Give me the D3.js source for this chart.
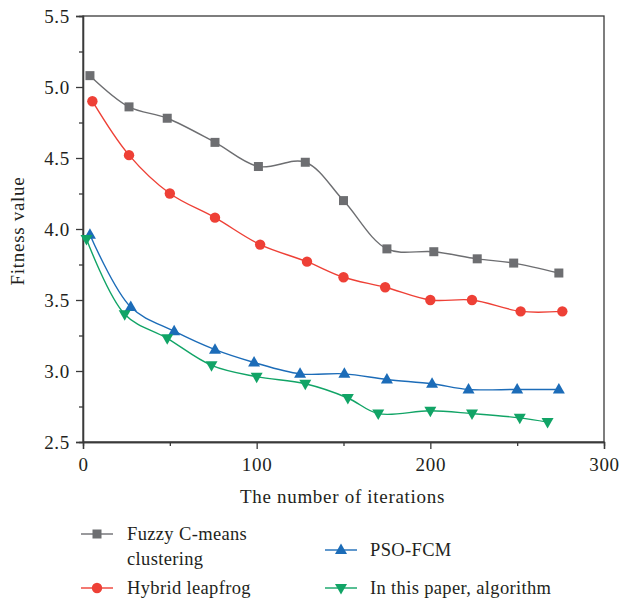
<!DOCTYPE html>
<html><head><meta charset="utf-8">
<script src="https://cdn.jsdelivr.net/npm/d3@7"></script>
<style>body{margin:0;background:#fff}svg{display:block}text{font-family:"Liberation Serif","DejaVu Serif",serif;fill:#231f20;letter-spacing:0.7px}</style>
</head><body><svg id="c" width="621" height="601"></svg>
<script>
const fuzzyX = [4, 26.5, 48.5, 76, 101, 128, 150, 175, 202, 227, 248, 274];
const fuzzyY = [5.08, 4.86, 4.78, 4.61, 4.44, 4.47, 4.20, 3.86, 3.84, 3.79, 3.76, 3.69];
const hybridX = [5.4, 26.5, 50, 76, 102, 129, 150, 174, 200, 224, 252, 276];
const hybridY = [4.90, 4.52, 4.25, 4.08, 3.89, 3.77, 3.66, 3.59, 3.50, 3.50, 3.42, 3.42];
const psoX = [4, 27.5, 52.5, 76, 98.5, 125, 150.5, 175, 201, 222, 250, 274];
const psoY = [3.96, 3.45, 3.28, 3.15, 3.06, 2.98, 2.98, 2.94, 2.91, 2.87, 2.87, 2.87];
const paperX = [2, 24, 48.5, 74, 100, 128, 152.5, 170, 200, 224, 251.5, 267.5];
const paperY = [3.93, 3.40, 3.23, 3.04, 2.96, 2.91, 2.81, 2.70, 2.72, 2.70, 2.67, 2.64];
const seriesNames = ["Fuzzy C-means clustering", "Hybrid leapfrog", "PSO-FCM", "In this paper, algorithm"];
const xTicks = [0, 100, 200, 300];
const yTicks = [2.5, 3.0, 3.5, 4.0, 4.5, 5.0, 5.5];

const FS = "19px";
const svg = d3.select("#c");
const x = d3.scaleLinear().domain([0, 300]).range([83, 604]);
const y = d3.scaleLinear().domain([2.5, 5.5]).range([442, 16]);

const series = [
  {xs: fuzzyX, ys: fuzzyY, color: "#6d6e71", sym: "square"},
  {xs: hybridX, ys: hybridY, color: "#ee4036", sym: "circle"},
  {xs: psoX, ys: psoY, color: "#1c6cb8", sym: "up"},
  {xs: paperX, ys: paperY, color: "#11a466", sym: "down"}
];

function marker(g, sym, cx, cy, color) {
  if (sym === "square") g.append("rect").attr("x", cx-4.5).attr("y", cy-4.5).attr("width", 9).attr("height", 9).attr("fill", color);
  else if (sym === "circle") g.append("circle").attr("cx", cx).attr("cy", cy).attr("r", 5.2).attr("fill", color);
  else if (sym === "up") g.append("path").attr("d", `M${cx},${cy-6.5}L${cx+6},${cy+4}L${cx-6},${cy+4}Z`).attr("fill", color);
  else g.append("path").attr("d", `M${cx},${cy+6.5}L${cx+6},${cy-4}L${cx-6},${cy-4}Z`).attr("fill", color);
}

const frameColor = "#3a3a3a";
svg.append("rect").attr("x", x(0)).attr("y", y(5.5)).attr("width", x(300)-x(0)).attr("height", y(2.5)-y(5.5))
  .attr("fill", "none").attr("stroke", frameColor).attr("stroke-width", 1.3);

const yAxis = d3.axisLeft(y).tickValues(yTicks).tickFormat(d3.format(".1f")).tickSize(7).tickPadding(6);
svg.append("g").attr("transform", `translate(${x(0)},0)`).call(yAxis);
const xAxis = d3.axisBottom(x).tickValues(xTicks).tickFormat(d3.format("d")).tickSize(7).tickPadding(9);
svg.append("g").attr("transform", `translate(0,${y(2.5)})`).call(xAxis);
svg.append("g").attr("transform", `translate(${x(0)},0)`).call(d3.axisLeft(y).tickValues([2.75,3.25,3.75,4.25,4.75,5.25]).tickFormat("").tickSize(4));
svg.append("g").attr("transform", `translate(0,${y(2.5)})`).call(d3.axisBottom(x).tickValues([50,150,250]).tickFormat("").tickSize(4));
svg.selectAll(".domain").attr("stroke", frameColor).attr("stroke-width", 1.3);
svg.selectAll(".tick line").attr("stroke", frameColor).attr("stroke-width", 1.3);
svg.selectAll(".tick text").style("font-size", FS).style("font-family", '"Liberation Serif",serif').attr("fill", "#231f20");

svg.append("text").attr("x", x(150) - 1).attr("y", 503).attr("text-anchor", "middle").style("font-size", FS).text("The number of iterations");
svg.append("text").attr("transform", `translate(24,${y(4) + 2}) rotate(-90)`).attr("text-anchor", "middle").style("font-size", FS).text("Fitness value");

const line = d3.line().curve(d3.curveCatmullRom.alpha(0.5));
series.forEach(s => {
  const pts = s.xs.map((v, i) => [x(v), y(s.ys[i])]);
  svg.append("path").attr("d", line(pts)).attr("fill", "none").attr("stroke", s.color).attr("stroke-width", 1.4);
  const g = svg.append("g");
  pts.forEach(p => marker(g, s.sym, p[0], p[1], s.color));
});

const leg = [
  {i: 0, lx: 81, ly: 534, tx: 127, lines: ["Fuzzy C-means", "clustering"], ty: 540},
  {i: 1, lx: 81, ly: 588, tx: 127, lines: ["Hybrid leapfrog"], ty: 594},
  {i: 2, lx: 325, ly: 550, tx: 370, lines: ["PSO-FCM"], ty: 556},
  {i: 3, lx: 325, ly: 588, tx: 370, lines: ["In this paper, algorithm"], ty: 594}
];
leg.forEach(l => {
  const s = series[l.i];
  svg.append("line").attr("x1", l.lx).attr("x2", l.lx + 32).attr("y1", l.ly).attr("y2", l.ly).attr("stroke", s.color).attr("stroke-width", 1.4);
  marker(svg, s.sym, l.lx + 16, l.ly, s.color);
  const t = svg.append("text").attr("x", l.tx).attr("y", l.ty).style("font-size", "18.5px").style("letter-spacing", "0.35px");
  l.lines.forEach((str, k) => t.append("tspan").attr("x", l.tx).attr("dy", k === 0 ? 0 : 25).text(str));
});
console.log(seriesNames.join(", "));
</script></body></html>
